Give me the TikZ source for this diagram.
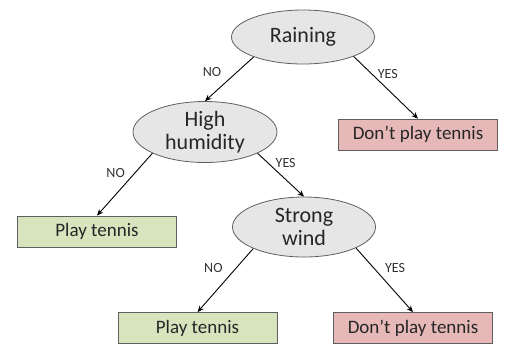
\documentclass[tikz,border=0pt]{standalone}
\usepackage{fontspec}
\setmainfont{Carlito}
\usetikzlibrary{arrows.meta,shapes.geometric}
\definecolor{testgray}{RGB}{230,230,230}
\definecolor{playgreen}{RGB}{215,228,189}
\definecolor{stopred}{RGB}{230,185,184}
\definecolor{rimgray}{RGB}{95,95,95}

\begin{document}
\begin{tikzpicture}[x=1pt,y=-1pt,>={Stealth[length=6.5pt,width=5.5pt]},
  test/.style={ellipse,draw=rimgray,fill=testgray,line width=0.8pt,
    minimum width=143pt,minimum height=58pt,inner sep=0pt,align=center,
    font=\fontsize{22}{23.5}\selectfont,text=black!85},
  leaf/.style={rectangle,draw=rimgray,line width=0.8pt,minimum width=159pt,
    minimum height=31pt,inner sep=0pt,font=\fontsize{19}{20}\selectfont,text=black!85},
  play/.style={leaf,fill=playgreen},
  stop/.style={leaf,fill=stopred},
  branch/.style={->,line width=0.9pt},
  answer/.style={inner sep=0pt,font=\fontsize{14}{15}\selectfont,text=black!80}]
 \useasboundingbox (0,0) rectangle (522,354);
 % questions
 \node[test,minimum height=54pt] (rain) at (303,37) {Raining};
 \node[test,minimum width=144pt,minimum height=61pt] (hum) at (205,132) {High\\humidity};
 \node[test,minimum height=60pt] (wind) at (304,227) {Strong\\wind};
 % outcomes
 \node[stop] (stopA) at (418,134.5) {Don’t play tennis};
 \node[play] (playA) at (97,231.5) {Play tennis};
 \node[play] (playB) at (197.5,328) {Play tennis};
 \node[stop] (stopB) at (413,328) {Don’t play tennis};
 % branches
 \draw[branch] (rain.-158) -- (hum.north)
   node[answer,pos=0.35,left=15pt] (noA) {NO};
 \draw[branch] (rain.-21) -- (stopA.north)
   node[answer,pos=0.29,right=5pt] (yesA) {YES};
 \draw[branch] (hum.-158) -- (playA.north)
   node[answer,pos=0.31,left=10pt] (noB) {NO};
 \draw[branch] (hum.-22) -- (wind.north)
   node[answer,pos=0.23,right=7pt] (yesB) {YES};
 \draw[branch] (wind.-157) -- (playB.north)
   node[answer,pos=0.31,left=13pt] (noC) {NO};
 \draw[branch] (wind.-22) -- (stopB.north)
   node[answer,pos=0.31,right=11pt] (yesC) {YES};
\end{tikzpicture}
\end{document}
